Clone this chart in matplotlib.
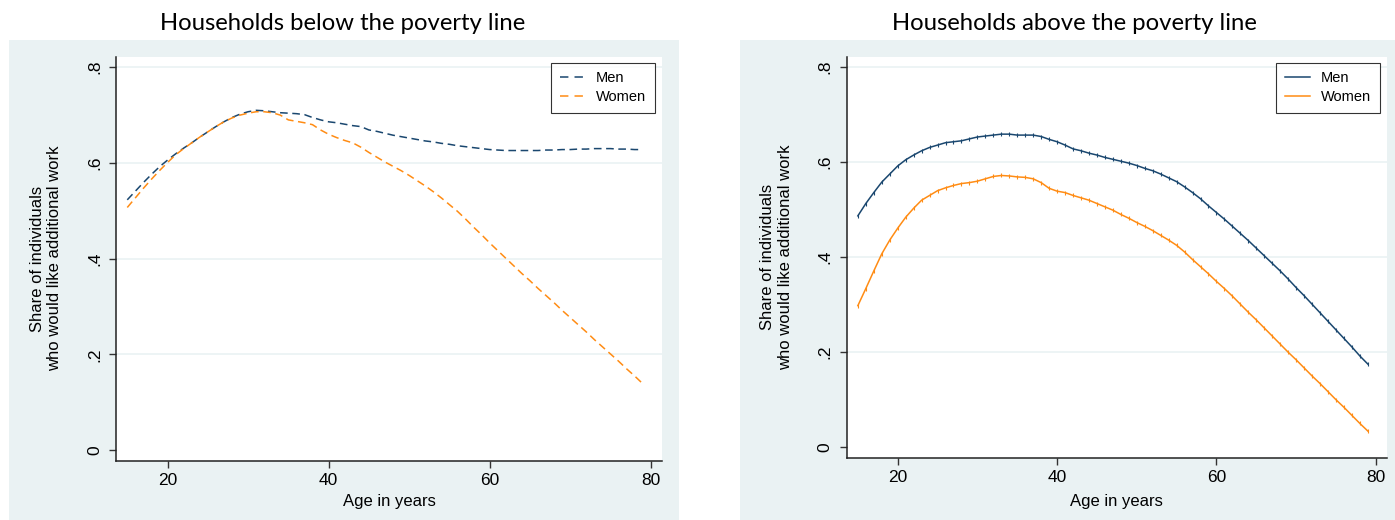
import numpy as np
import matplotlib
matplotlib.use('Agg')
import matplotlib.pyplot as plt
from matplotlib.patches import Rectangle
from matplotlib.lines import Line2D

# smoothed share wanting more work, by age (15..79)
ages = np.arange(15, 80)

below_men = [0.523, 0.541, 0.559, 0.576, 0.592, 0.606, 0.619, 0.631, 0.642, 0.654,
             0.665, 0.676, 0.686, 0.695, 0.702, 0.707, 0.710, 0.709, 0.707, 0.705,
             0.704, 0.703, 0.701, 0.695, 0.690, 0.686, 0.684, 0.681, 0.678, 0.676,
             0.669, 0.666, 0.662, 0.658, 0.655, 0.652, 0.649, 0.646, 0.644, 0.641,
             0.639, 0.636, 0.634, 0.632, 0.630, 0.628, 0.627, 0.626, 0.626, 0.626,
             0.626, 0.626, 0.627, 0.627, 0.628, 0.628, 0.629, 0.629, 0.630, 0.630,
             0.630, 0.629, 0.629, 0.628, 0.628]
below_women = [0.507, 0.527, 0.547, 0.566, 0.584, 0.601, 0.617, 0.630, 0.642, 0.654,
               0.665, 0.676, 0.686, 0.694, 0.700, 0.704, 0.707, 0.707, 0.705, 0.700,
               0.690, 0.687, 0.684, 0.680, 0.669, 0.660, 0.653, 0.647, 0.642, 0.633,
               0.622, 0.612, 0.602, 0.593, 0.584, 0.574, 0.563, 0.552, 0.540, 0.527,
               0.513, 0.499, 0.483, 0.466, 0.450, 0.433, 0.417, 0.401, 0.385, 0.369,
               0.354, 0.338, 0.323, 0.308, 0.292, 0.277, 0.262, 0.247, 0.231, 0.216,
               0.201, 0.186, 0.170, 0.155, 0.139]
above_men = [0.487, 0.513, 0.536, 0.558, 0.575, 0.592, 0.605, 0.615, 0.624, 0.631,
             0.636, 0.641, 0.643, 0.645, 0.649, 0.653, 0.655, 0.657, 0.659, 0.659,
             0.657, 0.657, 0.657, 0.654, 0.648, 0.643, 0.636, 0.628, 0.624, 0.619,
             0.615, 0.610, 0.606, 0.602, 0.598, 0.593, 0.587, 0.582, 0.575, 0.567,
             0.559, 0.548, 0.536, 0.523, 0.508, 0.494, 0.480, 0.465, 0.450, 0.435,
             0.419, 0.403, 0.387, 0.371, 0.354, 0.336, 0.319, 0.301, 0.283, 0.265,
             0.247, 0.229, 0.211, 0.192, 0.175]
above_women = [0.298, 0.334, 0.371, 0.407, 0.436, 0.461, 0.484, 0.503, 0.520, 0.530,
               0.540, 0.546, 0.551, 0.555, 0.557, 0.560, 0.565, 0.570, 0.572, 0.571,
               0.569, 0.568, 0.565, 0.557, 0.545, 0.539, 0.536, 0.530, 0.525, 0.520,
               0.513, 0.506, 0.499, 0.490, 0.482, 0.473, 0.465, 0.456, 0.446, 0.436,
               0.425, 0.411, 0.395, 0.380, 0.365, 0.349, 0.334, 0.318, 0.301, 0.284,
               0.268, 0.251, 0.234, 0.217, 0.200, 0.184, 0.167, 0.150, 0.134, 0.117,
               0.100, 0.084, 0.067, 0.050, 0.034]

titles = ['Households below the poverty line', 'Households above the poverty line']
yticks = [0, 0.2, 0.4, 0.6, 0.8]
ytick_labels = ['0', '.2', '.4', '.6', '.8']
xticks = [20, 40, 60, 80]

NAVY = '#1a476f'
ORANGE = '#ff8c14'
BG = '#eaf2f3'

plt.rcParams['font.family'] = ['Liberation Sans', 'DejaVu Sans']

W, H = 1395, 520
fig = plt.figure(figsize=(W / 100, H / 100), dpi=100)

# light graph-region panels behind each plot
for x0, x1 in [(9, 679), (740, 1395)]:
    fig.patches.append(Rectangle((x0 / W, 0), (x1 - x0) / W, (H - 40) / H,
                                 transform=fig.transFigure, facecolor=BG,
                                 edgecolor='none', zorder=-5))

boxes = [(116, 662, 56.7, 460.7), (846.7, 1387, 56.7, 457.7)]
title_x = [342.5, 1074]
series = [(below_men, below_women, True), (above_men, above_women, False)]

for i in range(2):
    l, r, t, b = boxes[i]
    ax = fig.add_axes([l / W, (H - b) / H, (r - l) / W, (b - t) / H])
    ax.set_facecolor('white')
    men, women, dashed = series[i]
    if dashed:
        style = dict(lw=1.1, dashes=(5, 3))
        ax.plot(ages, men, color=NAVY, **style)
        ax.plot(ages, women, color=ORANGE, **style)
        handles = [Line2D([], [], color=NAVY, lw=1.1, dashes=(5.5, 4)),
                   Line2D([], [], color=ORANGE, lw=1.1, dashes=(5.5, 4))]
    else:
        ax.plot(ages, men, color=NAVY, lw=1.1, marker='|', ms=2.5, mew=0.8)
        ax.plot(ages, women, color=ORANGE, lw=1.1, marker='|', ms=2.5, mew=0.8)
        handles = [Line2D([], [], color=NAVY, lw=1.1),
                   Line2D([], [], color=ORANGE, lw=1.1)]

    ax.set_xlim(13.6, 81.4)
    ax.set_ylim(-0.022, 0.822)
    ax.set_xticks(xticks)
    ax.set_yticks(yticks)
    ax.set_yticklabels(ytick_labels, rotation=90, va='center')
    ax.tick_params(labelsize=12.5, length=5, width=1, color='#333333', pad=4)
    ax.tick_params(axis='y', pad=5)
    for y in yticks[1:]:
        ax.axhline(y, color=BG, lw=1.2, zorder=0)
    for s in ['top', 'right']:
        ax.spines[s].set_visible(False)
    for s in ['left', 'bottom']:
        ax.spines[s].set_color('#222222')
        ax.spines[s].set_linewidth(1.1)

    ax.set_xlabel('Age in years', fontsize=12)
    ax.xaxis.set_label_coords(0.5, -(494 - b) / (b - t))
    ax.set_ylabel('Share of individuals\nwho would like additional work', fontsize=12,
                  va='center', ha='center', multialignment='center')
    ax.yaxis.set_label_coords(-70 / (r - l), 0.5)

    leg = ax.legend(handles, ['Men', 'Women'], loc='upper right',
                    bbox_to_anchor=(1 - 7 / (r - l), 1 - 6 / (b - t)),
                    borderaxespad=0, fontsize=10.5, frameon=True, fancybox=False,
                    handlelength=1.75, handletextpad=0.75, labelspacing=0.3,
                    borderpad=0.6)
    leg.get_frame().set_edgecolor('black')
    leg.get_frame().set_linewidth(0.8)

    fig.text(title_x[i] / W, 1 - 23 / H, titles[i], ha='center', va='center',
             fontsize=17.2, family=['Lato', 'DejaVu Sans'])

fig.savefig('out.png', dpi=100)
